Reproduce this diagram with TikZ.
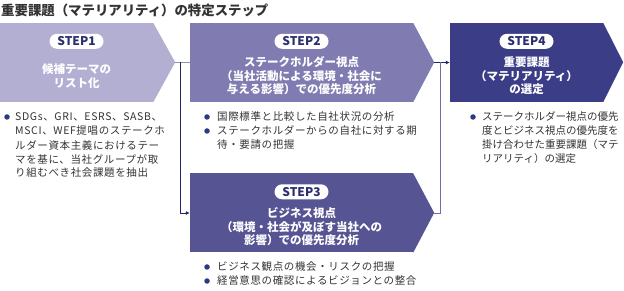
\documentclass[tikz,border=0pt]{standalone}
\usepackage{fontspec}
\usepackage{xcolor}
\usepackage{tikz}
\usetikzlibrary{positioning,arrows.meta,calc}
\newfontfamily\jpfont{Noto Sans CJK JP}
\newfontfamily\jpitem[LetterSpace=6]{Noto Sans CJK JP}
\definecolor{StepPale}{HTML}{B2AFD3}
\definecolor{StepMid}{HTML}{807CB1}
\definecolor{StepDeep}{HTML}{575493}
\definecolor{StepNavy}{HTML}{3B3D86}
\definecolor{PillText}{HTML}{2C2F6E}
\definecolor{DotNavy}{HTML}{2C3A80}
\definecolor{TextDark}{HTML}{333333}
\definecolor{LinkNavy}{HTML}{1F2566}
\definecolor{LinkPale}{HTML}{8C93B4}
\definecolor{LinkMid}{HTML}{6E6CAA}
\tikzset{
  stepbody/.style={minimum height=79pt, inner sep=0pt, draw=none},
  steppill/.style={fill=white, rounded corners=7.5pt, minimum width=54pt,
    minimum height=15pt, inner sep=0pt,
    font=\jpfont\bfseries\fontsize{12}{12}\selectfont, text=PillText},
  steptitle/.style={align=center, text=white, inner sep=0pt,
    font=\jpfont\bfseries\fontsize{11.5}{13.5}\selectfont},
  itemtext/.style={anchor=west, inner sep=0pt, text=TextDark,
    font=\jpitem\fontsize{10.5}{10.5}\selectfont},
  itemdot/.style={circle, fill=DotNavy, minimum size=5.5pt, inner sep=0pt},
  link/.style={line width=0.9pt},
}

\begin{document}
\begin{tikzpicture}[x=1pt,y=-1pt]
  \useasboundingbox (0,0) rectangle (624,291);
  \node[anchor=west, inner sep=0pt, text=TextDark,
    font=\jpfont\bfseries\fontsize{13.4}{13.4}\selectfont]
    (title) at (1,10) {重要課題（マテリアリティ）の特定ステップ};
  % step shapes
  \foreach \sname/\sx/\sy/\swd/\stip/\scol in {
    s1/76.5/62.5/153/22/StepPale, s2/301.5/62.5/223/21/StepMid,
    s3/301.5/213/223/21/StepDeep, s4/526.5/62.5/153/20/StepNavy}{
    \node[stepbody, fill=\scol, minimum width=\swd pt] (\sname) at (\sx,\sy) {};
    \fill[\scol] (\sname.north east) -- ++(\stip,39.5) -- (\sname.south east) -- cycle;
    \coordinate (\sname-tip) at ($(\sname.east)+(\stip,0)$);
  }
  \node[steppill] (s1-pill) at ($(s1.north)+(0,18.5)$) {STEP1};
  \node[steppill] (s2-pill) at ($(s2.north)+(0,18.5)$) {STEP2};
  \node[steppill] (s3-pill) at ($(s3.north)+(0,18.5)$) {STEP3};
  \node[steppill] (s4-pill) at ($(s4.north)+(0,18.5)$) {STEP4};
  \node[steptitle] (s1-head) at ($(s1.north)+(0,53.5)$) {候補テーマの\\リスト化};
  \node[steptitle] (s2-head) at ($(s2.north)+(0,53)$)
    {ステークホルダー視点\\（当社活動による環境・社会に\\与える影響）での優先度分析};
  \node[steptitle] (s3-head) at ($(s3.north)+(0,53.5)$)
    {ビジネス視点\\（環境・社会が及ぼす当社への\\影響）での優先度分析};
  \node[steptitle] (s4-head) at ($(s4.north)+(0,53)$)
    {重要課題\\（マテリアリティ）\\の選定};
  % connectors
  \coordinate (j1) at ($(s1-tip)+(5,0)$);
  \coordinate (j2) at ($(s2-tip)+(6,0)$);
  \draw[link, LinkPale] (s1-tip) -- (s2.west);
  \draw[link, LinkNavy, -{Latex[length=4pt,width=4pt]}] (j1) |- (s3.west);
  \draw[link, LinkNavy, -{Latex[length=4pt,width=4pt]}] (s2-tip) -- (s4.west);
  \draw[link, LinkMid] (s3-tip) -| (j2);
  % bullet items
  \node[itemdot] (d1) at (7,117) {};
  \foreach \ln [count=\i from 0] in {SDGs、GRI、ESRS、SASB、,
    MSCI、WEF提唱のステークホ, ルダー資本主義におけるテー,
    マを基に、当社グループが取, り組むべき社会課題を抽出}{
    \node[itemtext] (t1-\i) at (15,{117+14*\i}) {\ln};
  }
  \node[itemdot] (d2a) at (207,117) {};
  \node[itemdot] (d2b) at (207,131) {};
  \foreach \ln [count=\i from 0] in {国際標準と比較した自社状況の分析,
    ステークホルダーからの自社に対する期, 待・要請の把握}{
    \node[itemtext] (t2-\i) at (217,{117+14*\i}) {\ln};
  }
  \node[itemdot] (d3a) at (207,267) {};
  \node[itemdot] (d3b) at (207,281) {};
  \foreach \ln [count=\i from 0] in {ビジネス観点の機会・リスクの把握,
    経営意思の確認によるビジョンとの整合}{
    \node[itemtext] (t3-\i) at (217,{267+14*\i}) {\ln};
  }
  \node[itemdot] (d4) at (473,117) {};
  \foreach \ln [count=\i from 0] in {ステークホルダー視点の優先,
    度とビジネス視点の優先度を, 掛け合わせた重要課題（マテ,
    リアリティ）の選定}{
    \node[itemtext, font=\jpfont\fontsize{10.5}{10.5}\selectfont]
      (t4-\i) at (482,{117+14*\i}) {\ln};
  }
\end{tikzpicture}
\end{document}
